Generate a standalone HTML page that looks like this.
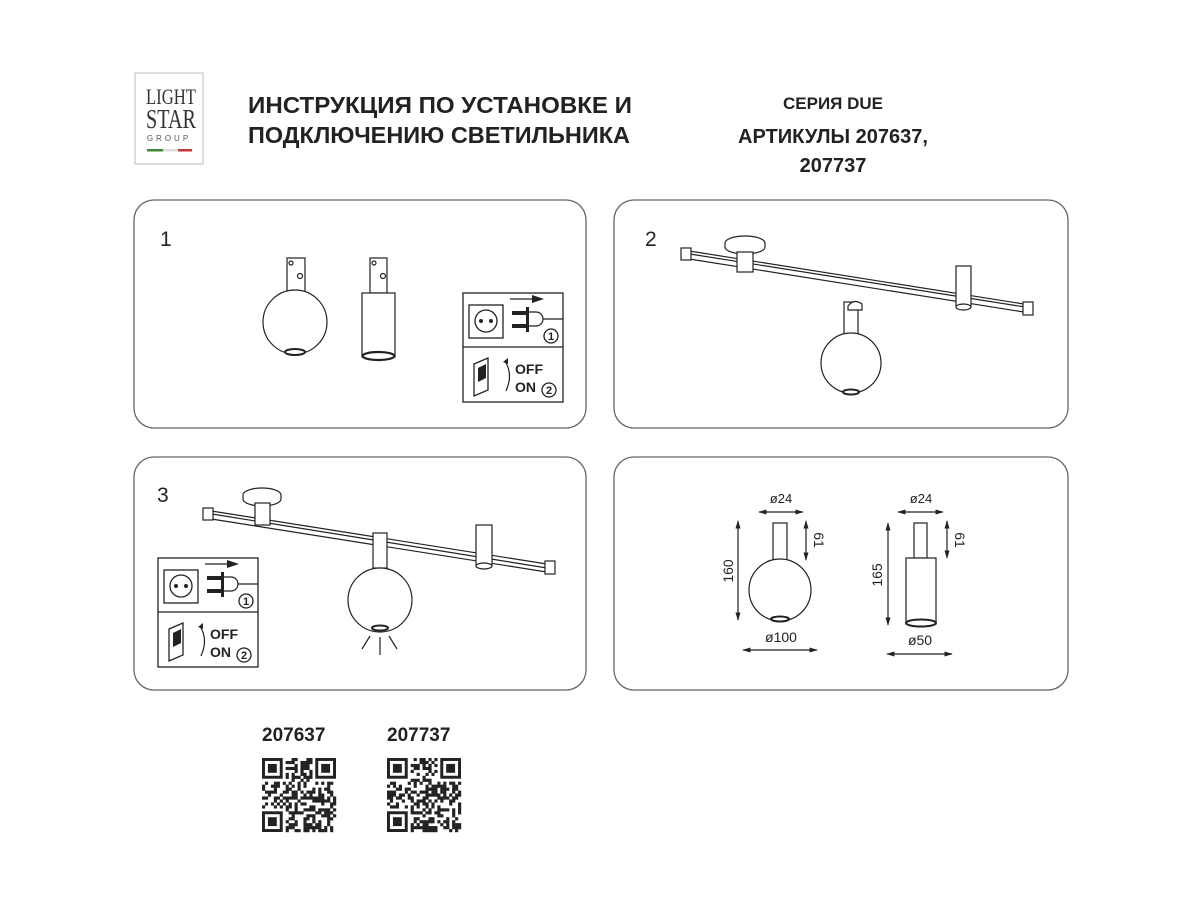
<!DOCTYPE html>
<html><head><meta charset="utf-8"><style>
body{margin:0;background:#fff;width:1200px;height:900px;overflow:hidden}
svg{display:block}
.t{font-family:"Liberation Sans",sans-serif}
.sf{font-family:"Liberation Serif",serif}
</style></head><body>
<svg id="s" width="1200" height="900" viewBox="0 0 1200 900" xmlns="http://www.w3.org/2000/svg" font-family="Liberation Sans, sans-serif">
<defs>
<marker id="a" viewBox="0 0 10 10" refX="9" refY="5" markerWidth="7" markerHeight="7" orient="auto-start-reverse"><path d="M0,2 L10,5 L0,8z" fill="#222"/></marker>
</defs>
<!-- logo -->
<rect x="135" y="73" width="68" height="91" fill="#fff" stroke="#bbb"/>
<text class="sf" x="146" y="104" font-size="22" fill="#333" textLength="50" lengthAdjust="spacingAndGlyphs">LIGHT</text>
<text class="sf" x="146" y="128" font-size="27" fill="#333" textLength="50" lengthAdjust="spacingAndGlyphs">STAR</text>
<text class="t" x="169" y="141" text-anchor="middle" font-size="8" fill="#555" letter-spacing="3">GROUP</text>
<rect x="147" y="149" width="16" height="2.5" fill="#3a8a3a"/><rect x="163" y="149" width="15" height="2.5" fill="#ddd"/><rect x="178" y="149" width="14" height="2.5" fill="#c33"/>
<text class="t" x="248" y="113" font-size="23" font-weight="bold" fill="#222" textLength="384" lengthAdjust="spacingAndGlyphs">ИНСТРУКЦИЯ ПО УСТАНОВКЕ И</text>
<text class="t" x="248" y="143" font-size="23" font-weight="bold" fill="#222" textLength="382" lengthAdjust="spacingAndGlyphs">ПОДКЛЮЧЕНИЮ СВЕТИЛЬНИКА</text>
<text class="t" x="833" y="109" text-anchor="middle" font-size="17" font-weight="bold" fill="#222">СЕРИЯ DUE</text>
<text class="t" x="833" y="143" text-anchor="middle" font-size="20" font-weight="bold" fill="#222">АРТИКУЛЫ 207637,</text>
<text class="t" x="833" y="172" text-anchor="middle" font-size="20" font-weight="bold" fill="#222">207737</text>

<g fill="none" stroke="#666" stroke-width="1.3">
<rect x="134" y="200" width="452" height="228" rx="20"/>
<rect x="614" y="200" width="454" height="228" rx="20"/>
<rect x="134" y="457" width="452" height="233" rx="20"/>
<rect x="614" y="457" width="454" height="233" rx="20"/>
</g>
<text class="t" x="160" y="246" font-size="21" fill="#222">1</text>
<text class="t" x="645" y="246" font-size="21" fill="#222">2</text>
<text class="t" x="157" y="502" font-size="21" fill="#222">3</text>

<g fill="#fff" stroke="#222" stroke-width="1.2">
<rect x="287" y="258" width="18" height="34"/>
<circle cx="295" cy="322" r="32"/>
<ellipse cx="295" cy="352" rx="10" ry="3" stroke-width="2"/>
<circle cx="300" cy="276" r="2.5"/><circle cx="291" cy="263" r="2"/>
<rect x="370" y="258" width="17" height="35"/>
<rect x="362" y="293" width="33" height="64"/>
<ellipse cx="378.5" cy="356" rx="16" ry="4" stroke-width="2.2"/>
<circle cx="383" cy="276" r="2.5"/><circle cx="374" cy="263" r="2"/>
</g>

<g id="sw1" class="t">
<rect x="463" y="293" width="100" height="109" fill="#fff" stroke="#222" stroke-width="1.3"/>
<line x1="463" y1="347" x2="563" y2="347" stroke="#222" stroke-width="1.3"/>
<rect x="469" y="305" width="34" height="33" fill="none" stroke="#222" stroke-width="1.3"/>
<circle cx="486" cy="321" r="11" fill="none" stroke="#222" stroke-width="1.3"/>
<circle cx="481" cy="321" r="2" fill="#222"/><circle cx="491" cy="321" r="2" fill="#222"/>
<path d="M512 313h15M512 326h15" stroke="#222" stroke-width="4"/>
<rect x="526" y="307" width="3" height="25" fill="#222"/>
<path d="M529 312h7a7 7 0 0 1 0 14h-7M543 319h20" fill="none" stroke="#222" stroke-width="1.2"/>
<path d="M510 299h30" stroke="#222" stroke-width="1.2"/><path d="M532 295l12 4-12 4z" fill="#222"/>
<circle cx="551" cy="336" r="7" fill="none" stroke="#222" stroke-width="1.3"/>
<text x="551" y="340" text-anchor="middle" font-size="11" font-weight="bold" fill="#222">1</text>
<path d="M474 364l14-6v32l-14 6z" fill="#fff" stroke="#222" stroke-width="1.3"/>
<path d="M478 368l8-4v14l-8 4z" fill="#222"/>
<path d="M506 363q7 12 0 28" fill="none" stroke="#222" stroke-width="1.2"/><path d="M503 362l5-4 0 6z" fill="#222"/>
<text x="515" y="374" font-size="14" font-weight="bold" fill="#222">OFF</text>
<text x="515" y="392" font-size="14" font-weight="bold" fill="#222">ON</text>
<circle cx="549" cy="390" r="7" fill="none" stroke="#222" stroke-width="1.3"/>
<text x="549" y="394" text-anchor="middle" font-size="11" font-weight="bold" fill="#222">2</text>
</g>
<use href="#sw1" x="-305" y="265"/>

<!-- panel2 -->
<g fill="#fff" stroke="#222" stroke-width="1.2">
<path d="M683 250L1030 305M683 258L1030 313M690 254L1025 307" fill="none"/>
<rect x="681" y="248" width="10" height="12"/><rect x="1023" y="302" width="10" height="13"/>
<ellipse cx="745" cy="243" rx="20" ry="7"/><path d="M725 243v4a20 7 0 0 0 40 0v-4"/>
<rect x="737" y="252" width="16" height="20"/>
<rect x="956" y="266" width="15" height="40"/><ellipse cx="963.5" cy="307" rx="7.5" ry="3"/>
<rect x="844" y="302" width="14" height="32"/>
<path d="M848 306q6-8 14-2v6h-14z"/>
<circle cx="851" cy="363" r="30"/>
<ellipse cx="851" cy="392" rx="8" ry="2.5" stroke-width="2"/>
</g>
<!-- panel3 -->
<g fill="#fff" stroke="#222" stroke-width="1.2">
<path d="M205 510L553 565M205 518L553 573M212 514L547 568" fill="none"/>
<rect x="203" y="508" width="10" height="12"/><rect x="545" y="561" width="10" height="13"/>
<ellipse cx="262" cy="495" rx="19" ry="7"/><path d="M243 495v4a19 7 0 0 0 38 0v-4"/>
<rect x="255" y="503" width="15" height="22"/>
<rect x="476" y="525" width="16" height="40"/><ellipse cx="484" cy="566" rx="8" ry="3"/>
<rect x="373" y="533" width="14" height="35"/>
<circle cx="380" cy="600" r="32"/>
<ellipse cx="380" cy="628" rx="8" ry="2.5" stroke-width="2"/>
<path d="M370 636l-8 13M380 637v18M389 636l8 13" fill="none"/>
</g>
<!-- panel4 -->
<g fill="#fff" stroke="#222" stroke-width="1.2">
<rect x="773" y="523" width="14" height="37"/>
<circle cx="780" cy="590" r="31"/>
<ellipse cx="780" cy="619" rx="9" ry="2.5" stroke-width="2"/>
<rect x="914" y="523" width="13" height="35"/>
<rect x="906" y="558" width="30" height="66"/>
<ellipse cx="921" cy="623" rx="15" ry="3.5" stroke-width="2"/>
</g>
<g stroke="#222" stroke-width="1.2" marker-start="url(#a)" marker-end="url(#a)">
<line x1="759" y1="512" x2="803" y2="512"/>
<line x1="738" y1="521" x2="738" y2="620"/>
<line x1="806" y1="521" x2="806" y2="560"/>
<line x1="743" y1="650" x2="817" y2="650"/>
<line x1="898" y1="512" x2="943" y2="512"/>
<line x1="888" y1="523" x2="888" y2="625"/>
<line x1="947" y1="521" x2="947" y2="558"/>
<line x1="887" y1="654" x2="952" y2="654"/>
</g>
<g class="t" font-size="13" fill="#222" text-anchor="middle">
<text x="781" y="503">ø24</text><text x="921" y="503">ø24</text>
<text x="781" y="642" font-size="14">ø100</text><text x="920" y="645" font-size="14">ø50</text>
<text transform="translate(733,571) rotate(-90)" font-size="14">160</text>
<text transform="translate(882,575) rotate(-90)" font-size="14">165</text>
<text transform="translate(814,540) rotate(90)" font-size="14">61</text>
<text transform="translate(955,540) rotate(90)" font-size="14">61</text>
</g>
<text class="t" x="262" y="741" font-size="19" font-weight="bold" fill="#222">207637</text>
<text class="t" x="387" y="741" font-size="19" font-weight="bold" fill="#222">207737</text>
<g id="qr"></g>
</svg>
<script>
var g=document.getElementById('qr'),ns='http://www.w3.org/2000/svg';
function r(x,y,w,h){var e=document.createElementNS(ns,'rect');e.setAttribute('x',x);e.setAttribute('y',y);e.setAttribute('width',w);e.setAttribute('height',h);e.setAttribute('fill','#222');g.appendChild(e);}
function qr(X,Y,seed){var n=25,c=74/n;
function f(i,j){return (i<8&&j<8)||(i<8&&j>n-9)||(i>n-9&&j<8);}
for(var i=0;i<n;i++)for(var j=0;j<n;j++){if(f(i,j))continue;seed=(seed*1103515245+12345)&0x7fffffff;if((seed>>16)%2)r(X+j*c,Y+i*c,c+.2,c+.2);}
[[0,0],[0,n-7],[n-7,0]].forEach(function(p){var x=X+p[1]*c,y=Y+p[0]*c;r(x,y,7*c,7*c);var w=document.createElementNS(ns,'rect');w.setAttribute('x',x+c);w.setAttribute('y',y+c);w.setAttribute('width',5*c);w.setAttribute('height',5*c);w.setAttribute('fill','#fff');g.appendChild(w);r(x+2*c,y+2*c,3*c,3*c);});}
qr(262,758,7);qr(387,758,99);
</script>
</body></html>
